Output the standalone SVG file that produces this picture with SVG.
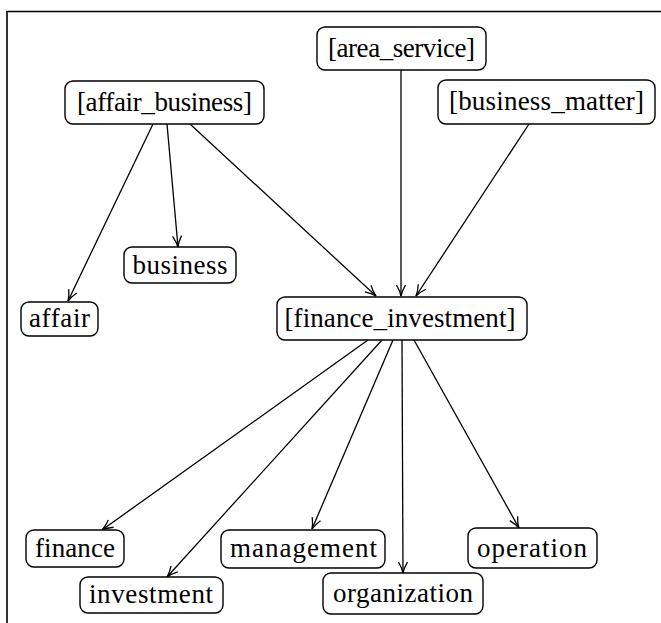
<svg xmlns="http://www.w3.org/2000/svg" width="661" height="623" viewBox="0 0 661 623">
<style>
.box{fill:#fff;stroke:#000;stroke-width:1.4}
.lbl{font-family:"Liberation Serif","DejaVu Serif",serif;font-size:27px;fill:#000;text-anchor:middle}
.edge{fill:none;stroke:#000;stroke-width:1.3;marker-end:url(#arr)}
.frame{fill:none;stroke:#000;stroke-width:1.6}
</style>
<defs>
<marker id="arr" markerUnits="userSpaceOnUse" markerWidth="14" markerHeight="12" refX="12" refY="6" orient="auto" viewBox="0 0 14 12">
<path d="M1,1.5 Q7,5 12,6 Q7,7 1,10.5" fill="none" stroke="#000" stroke-width="1.3"/>
</marker>
</defs>
<rect width="661" height="623" fill="#fff"/>
<path class="frame" d="M7,623 V11.5 H661"/>
<g id="connectors">
<line class="edge" x1="153" y1="124" x2="68" y2="301"/>
<line class="edge" x1="167" y1="124" x2="178" y2="247"/>
<line class="edge" x1="190" y1="124" x2="376" y2="296"/>
<line class="edge" x1="401" y1="70" x2="401" y2="296"/>
<line class="edge" x1="529" y1="124" x2="416" y2="296"/>
<line class="edge" x1="368" y1="340" x2="102" y2="530"/>
<line class="edge" x1="382" y1="340" x2="167" y2="577"/>
<line class="edge" x1="393" y1="340" x2="312" y2="529"/>
<line class="edge" x1="402" y1="340" x2="403" y2="573"/>
<line class="edge" x1="414" y1="340" x2="519" y2="528"/>
</g>
<g id="area_service"><rect class="box" x="317" y="27" width="169" height="43" rx="8"/><text class="lbl" x="401.5" y="57" textLength="147" lengthAdjust="spacing">[area_service]</text></g>
<g id="affair_business"><rect class="box" x="65" y="81" width="199" height="43" rx="8"/><text class="lbl" x="164.5" y="111" textLength="175" lengthAdjust="spacing">[affair_business]</text></g>
<g id="business_matter"><rect class="box" x="438" y="80" width="217" height="44" rx="8"/><text class="lbl" x="546.5" y="110" textLength="195" lengthAdjust="spacing">[business_matter]</text></g>
<g id="business"><rect class="box" x="124" y="247" width="112" height="36" rx="8"/><text class="lbl" x="180" y="274" textLength="95" lengthAdjust="spacing">business</text></g>
<g id="affair"><rect class="box" x="21" y="302" width="77" height="34" rx="8"/><text class="lbl" x="59.5" y="327" textLength="61" lengthAdjust="spacing">affair</text></g>
<g id="finance_investment"><rect class="box" x="277" y="297" width="250" height="43" rx="8"/><text class="lbl" x="400" y="327" textLength="231" lengthAdjust="spacing">[finance_investment]</text></g>
<g id="finance"><rect class="box" x="26" y="530" width="98" height="37" rx="8"/><text class="lbl" x="75" y="557" textLength="80" lengthAdjust="spacing">finance</text></g>
<g id="management"><rect class="box" x="221" y="530" width="164" height="38" rx="8"/><text class="lbl" x="303.5" y="557" textLength="147" lengthAdjust="spacing">management</text></g>
<g id="operation"><rect class="box" x="468" y="528" width="129" height="40" rx="8"/><text class="lbl" x="532" y="557" textLength="110" lengthAdjust="spacing">operation</text></g>
<g id="investment"><rect class="box" x="80" y="577" width="143" height="36" rx="8"/><text class="lbl" x="151" y="603" textLength="124" lengthAdjust="spacing">investment</text></g>
<g id="organization"><rect class="box" x="323" y="573" width="160" height="41" rx="8"/><text class="lbl" x="403" y="602" textLength="140" lengthAdjust="spacing">organization</text></g>
</svg>
